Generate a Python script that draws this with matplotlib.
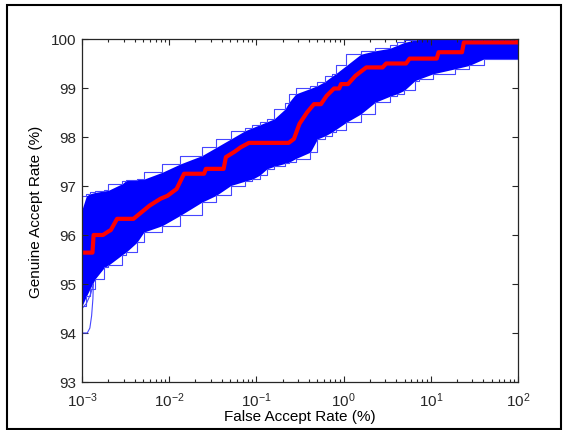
#!/usr/bin/env python
# coding: utf-8

import numpy as np
import matplotlib
matplotlib.use('Agg')
import matplotlib.pyplot as plt
from matplotlib.patches import Rectangle

# red (mean) ROC curve, log10(FAR %) vs GAR %
red_logfar = [-3.0, -2.88, -2.867, -2.76, -2.70, -2.67, -2.598, -2.41, -2.225,
              -2.10, -2.02, -1.915, -1.83, -1.60, -1.58, -1.376, -1.35, -1.25,
              -1.18, -1.086, -0.63, -0.57, -0.506, -0.42, -0.34, -0.26, -0.195,
              -0.11, -0.05, -0.03, 0.05, 0.136, 0.26, 0.447, 0.488, 0.716, 0.757,
              1.068, 1.089, 1.358, 1.379, 1.995, 2.0]
red_gar = [95.64, 95.64, 96.0, 96.0, 96.07, 96.1, 96.33, 96.33, 96.6,
           96.74, 96.8, 96.94, 97.25, 97.25, 97.35, 97.35, 97.59, 97.70,
           97.79, 97.88, 97.88, 97.96, 98.27, 98.5, 98.67, 98.67, 98.84,
           98.99, 98.99, 99.08, 99.08, 99.25, 99.42, 99.42, 99.5, 99.5, 99.6,
           99.6, 99.73, 99.73, 99.93, 99.93, 100.0]

# envelope of the blue bundle of ROC curves
band_logfar = [-3.0, -2.95, -2.909, -2.847, -2.743, -2.70, -2.536, -2.495, -2.37,
               -2.29, -2.08, -1.873, -1.625, -1.459, -1.293, -1.128, -1.045,
               -0.962, -0.879, -0.796, -0.672, -0.63, -0.548, -0.382, -0.30,
               -0.216, -0.133, -0.092, 0.032, 0.198, 0.364, 0.529, 0.612, 0.695,
               0.819, 0.861, 1.027, 1.275, 1.441, 1.606, 2.0]
band_hi = [96.52, 96.80, 96.84, 96.87, 96.90, 96.91, 97.05, 97.11, 97.13,
           97.14, 97.28, 97.45, 97.62, 97.79, 97.96, 98.13, 98.19,
           98.25, 98.31, 98.37, 98.57, 98.70, 98.88, 98.99, 99.05,
           99.13, 99.24, 99.29, 99.46, 99.69, 99.76, 99.81, 99.87, 99.93,
           99.98, 99.99, 100.0, 100.0, 100.0, 100.0, 100.0]
band_lo = [94.55, 94.75, 94.90, 95.11, 95.34, 95.38, 95.60, 95.65, 95.85,
           96.06, 96.19, 96.40, 96.67, 96.81, 97.01, 97.10, 97.14,
           97.22, 97.35, 97.40, 97.46, 97.48, 97.56, 97.69, 97.96,
           98.02, 98.10, 98.15, 98.30, 98.47, 98.71, 98.83, 98.88, 98.95,
           99.15, 99.18, 99.29, 99.39, 99.46, 99.59, 99.59]

# single curves sticking out at the low-FAR end
out1_logfar = [-3.0, -2.94, -2.91, -2.89, -2.875, -2.87]
out1_gar = [94.0, 94.0, 94.1, 94.35, 94.7, 95.0]
out2_logfar = [-3.0, -2.95, -2.9, -2.87]
out2_gar = [94.5, 94.6, 94.8, 95.0]

yticks = [93, 94, 95, 96, 97, 98, 99, 100]


def far(v):
    return 10.0 ** np.asarray(v)


def main():
    plt.rcParams['font.family'] = ['Liberation Sans', 'DejaVu Sans']
    plt.rcParams['mathtext.fontset'] = 'custom'
    plt.rcParams['mathtext.rm'] = 'Liberation Sans'
    plt.rcParams['mathtext.it'] = 'Liberation Sans'
    plt.rcParams['mathtext.default'] = 'regular'

    fig = plt.figure(figsize=(5.66, 4.31), dpi=100)
    ax = fig.add_axes([0.1449, 0.1114, 0.7703, 0.7958])

    blue = '#0000ff'
    edge = '#4646ff'
    x = far(band_logfar)
    ax.fill_between(x, band_lo, band_hi, color=blue, lw=0)
    # stair-shaped outer edges of the bundle
    ax.step(x, band_lo, where='post', color=edge, lw=0.8)
    ax.step(x, band_hi, where='pre', color=edge, lw=0.8)
    ax.plot(far(out1_logfar), out1_gar, color=edge, lw=0.8)
    ax.plot(far(out2_logfar), out2_gar, color=edge, lw=0.8)
    ax.plot(far(red_logfar), red_gar, color='#ff0000', lw=3)

    ax.set_xscale('log')
    ax.set_xlim(1e-3, 1e2)
    ax.set_ylim(93, 100)
    ax.set_yticks(yticks)
    ax.set_yticklabels([str(v) for v in yticks])

    ax.tick_params(which='both', direction='in', top=True, right=True,
                   labelsize=11, colors='#262626', pad=4)
    ax.tick_params(axis='x', which='both', pad=6)
    ax.tick_params(which='major', length=4, width=0.8)
    ax.tick_params(which='minor', length=2.3, width=0.8)
    ax.tick_params(axis='y', which='minor', left=False, right=False)
    for s in ax.spines.values():
        s.set_linewidth(0.9)
        s.set_color('#262626')

    ax.set_xlabel('False Accept Rate (%)', fontsize=11, labelpad=0)
    ax.set_ylabel('Genuine Accept Rate (%)', fontsize=11, labelpad=6)

    fig.patches.append(Rectangle((0.0124, 0.0023), 0.979, 0.984,
                                 transform=fig.transFigure, fill=False,
                                 lw=1.5, edgecolor='black'))

    plt.savefig('out.png', dpi=100)


if __name__ == '__main__':
    main()
